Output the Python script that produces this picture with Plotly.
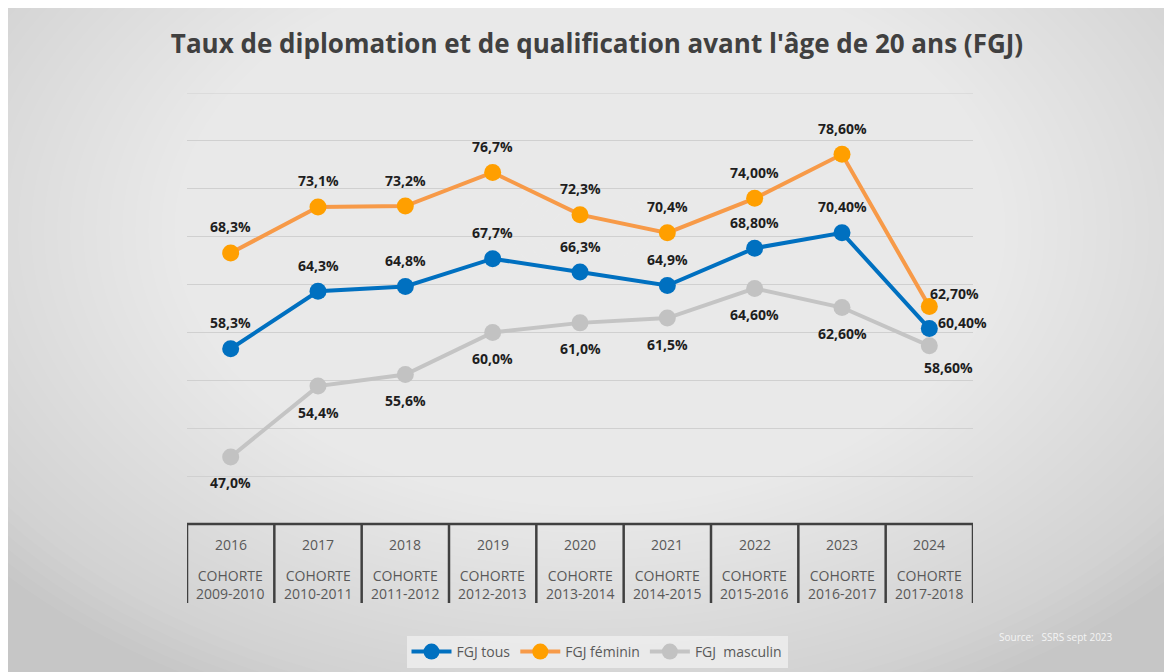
import plotly.graph_objects as go

# ---------------- data ----------------
years = ["2016", "2017", "2018", "2019", "2020", "2021", "2022", "2023", "2024"]
cohorts = ["2009-2010", "2010-2011", "2011-2012", "2012-2013", "2013-2014",
           "2014-2015", "2015-2016", "2016-2017", "2017-2018"]
fgj_tous = [58.3, 64.3, 64.8, 67.7, 66.3, 64.9, 68.8, 70.4, 60.4]
fgj_feminin = [68.3, 73.1, 73.2, 76.7, 72.3, 70.4, 74.0, 78.6, 62.7]
fgj_masculin = [47.0, 54.4, 55.6, 60.0, 61.0, 61.5, 64.6, 62.6, 58.6]
lbl_tous = ["58,3%", "64,3%", "64,8%", "67,7%", "66,3%", "64,9%", "68,80%", "70,40%", "60,40%"]
lbl_feminin = ["68,3%", "73,1%", "73,2%", "76,7%", "72,3%", "70,4%", "74,00%", "78,60%", "62,70%"]
lbl_masculin = ["47,0%", "54,4%", "55,6%", "60,0%", "61,0%", "61,5%", "64,60%", "62,60%", "58,60%"]
y_ticks = [45, 50, 55, 60, 65, 70, 75, 80, 85]
y_min, y_max = 40, 85

title = "Taux de diplomation et de qualification avant l'âge de 20 ans (FGJ)"
source = "Source:   SSRS sept 2023"

# ---------------- geometry helpers (page pixels; page has an 8px body margin) ----------------
OFF = 8
W, H = 1172, 672
L, R, T, B = 187, 973, 93, 524  # plot area in page pixels


def px(x):
    return (x - L) / (R - L)


def py(y):
    return (B - y) / (B - T)


FONT = "Open Sans"
x_idx = list(range(len(years)))
n = len(years)

BLUE = "#0070C0"
ORANGE_L = "#F79A48"
ORANGE_M = "#FF9F00"
GREY_L = "#C4C4C4"
GREY_M = "#C2C2C2"
GRID = "#d0d0d0"

fig = go.Figure()
fig.add_trace(go.Scatter(x=x_idx, y=fgj_tous, name="FGJ tous", mode="lines+markers",
                         line=dict(color=BLUE, width=4),
                         marker=dict(color=BLUE, size=17)))
fig.add_trace(go.Scatter(x=x_idx, y=fgj_feminin, name="FGJ féminin", mode="lines+markers",
                         line=dict(color=ORANGE_L, width=4),
                         marker=dict(color=ORANGE_M, size=17)))
fig.add_trace(go.Scatter(x=x_idx, y=fgj_masculin, name="FGJ  masculin", mode="lines+markers",
                         line=dict(color=GREY_L, width=4),
                         marker=dict(color=GREY_M, size=17)))

shapes = []
# radial gradient made of stacked translucent ellipses
cx, cy = 590, 230
RX, RY = 780, 520
N = 60
for k in range(N):
    f = 1 - k / N
    shapes.append(dict(type="circle", xref="paper", yref="paper", layer="below",
                       x0=px(cx - RX * f), x1=px(cx + RX * f),
                       y0=py(cy + RY * f), y1=py(cy - RY * f),
                       fillcolor="rgba(255,255,255,0.042)", line=dict(width=0)))

# top gridline at the edge of the range
shapes.append(dict(type="line", xref="x", yref="y", x0=-0.5, x1=n - 0.5,
                   y0=y_ticks[-1], y1=y_ticks[-1], layer="below",
                   line=dict(color=GRID, width=1)))

# category table
TABLE_BOTTOM = 603
for i in range(n + 1):
    shapes.append(dict(type="line", xref="x", yref="paper", x0=i - 0.5, x1=i - 0.5,
                       y0=py(TABLE_BOTTOM), y1=0, line=dict(color="#404040", width=2.5)))
shapes.append(dict(type="line", xref="x", yref="paper", x0=-0.5, x1=n - 0.5,
                   y0=0, y1=0, line=dict(color="#404040", width=2.5)))

annotations = []
TBL_FONT = dict(family=FONT, size=14, color="#595959")
for i in x_idx:
    annotations.append(dict(x=i, y=py(544), xref="x", yref="paper", text=years[i],
                            showarrow=False, font=TBL_FONT, yanchor="middle"))
    annotations.append(dict(x=i, y=py(584), xref="x", yref="paper",
                            text="COHORTE<br>" + cohorts[i],
                            showarrow=False, font=TBL_FONT, yanchor="middle"))

# data labels
LBL_FONT = dict(family=FONT, size=14, color="#1e1e1e", weight="bold")
for i in x_idx:
    last = i == n - 1
    annotations.append(dict(x=i, y=fgj_feminin[i], xref="x", yref="y", text=lbl_feminin[i],
                            showarrow=False, font=LBL_FONT, yanchor="middle",
                            xshift=25 if last else 0, yshift=13 if last else 26))
    annotations.append(dict(x=i, y=fgj_tous[i], xref="x", yref="y", text=lbl_tous[i],
                            showarrow=False, font=LBL_FONT, yanchor="middle",
                            xshift=33 if last else 0, yshift=6 if last else 26))
    annotations.append(dict(x=i, y=fgj_masculin[i], xref="x", yref="y", text=lbl_masculin[i],
                            showarrow=False, font=LBL_FONT, yanchor="middle",
                            xshift=19 if last else 0, yshift=-22 if last else -26))

annotations.append(dict(x=px(997), y=py(637), xref="paper", yref="paper", text=source,
                        showarrow=False, xanchor="left", yanchor="middle",
                        font=dict(family=FONT, size=10, color="#f4f4f4")))

fig.update_layout(
    width=W, height=H,
    margin=dict(l=L - OFF, r=W - (R - OFF), t=T - OFF, b=H - (B - OFF), pad=0),
    paper_bgcolor="#c6c6c6",
    plot_bgcolor="rgba(0,0,0,0)",
    title=dict(text=title, x=px(597), xref="paper", xanchor="center",
               y=1 - (44 - OFF) / H, yref="container", yanchor="middle",
               font=dict(family=FONT, size=26, color="#404040", weight="bold")),
    xaxis=dict(range=[-0.5, n - 0.5], showticklabels=False, showgrid=False,
               zeroline=False, showline=False, ticks=""),
    yaxis=dict(range=[y_min, y_max], tickvals=y_ticks, showticklabels=False, showgrid=True,
               gridcolor=GRID, gridwidth=1, zeroline=False, showline=False, ticks=""),
    showlegend=True,
    legend=dict(orientation="h", x=px(597), xanchor="center", y=py(652), yanchor="middle",
                bgcolor="rgba(236,236,236,0.9)", font=dict(family=FONT, size=14, color="#595959"),
                itemwidth=40, entrywidth=0),
    shapes=shapes,
    annotations=annotations,
)

fig.write_html("out.html")
